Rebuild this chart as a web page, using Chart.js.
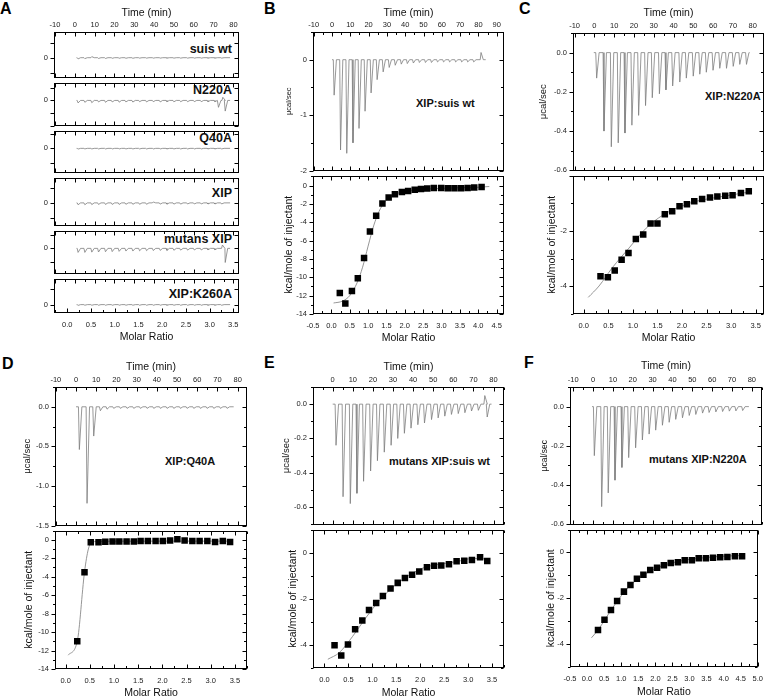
<!DOCTYPE html>
<html>
<head>
<meta charset="utf-8">
<script src="https://cdn.jsdelivr.net/npm/chart.js"></script>
<style>
  html, body { margin: 0; padding: 0; background: #fff; overflow: hidden; }
  #fig { position: relative; width: 769px; height: 698px; font-family: "Liberation Sans", Arial, sans-serif; }
  #fig canvas { position: absolute; }
  .lbl { position: absolute; font-weight: bold; font-size: 11px; line-height: 11px; color: #111; white-space: nowrap; }
  .lbl.a { font-size: 12.5px; line-height: 12.5px; text-align: right; }
  .pl { position: absolute; font-weight: bold; font-size: 16px; line-height: 16px; color: #000; }
</style>
</head>
<body>
<div id="fig">
  <div class="pl" style="left:0px;top:1px">A</div>
  <div class="pl" style="left:264px;top:1px">B</div>
  <div class="pl" style="left:519px;top:1px">C</div>
  <div class="pl" style="left:2px;top:356px">D</div>
  <div class="pl" style="left:264px;top:355px">E</div>
  <div class="pl" style="left:524px;top:355px">F</div>

  <div class="lbl a" style="right:537px;top:43px">suis wt</div>
  <div class="lbl a" style="right:537px;top:84px">N220A</div>
  <div class="lbl a" style="right:537px;top:132px">Q40A</div>
  <div class="lbl a" style="right:537px;top:187px">XIP</div>
  <div class="lbl a" style="right:537px;top:233px">mutans XIP</div>
  <div class="lbl a" style="right:537px;top:288px">XIP:K260A</div>

  <div class="lbl" style="left:416px;top:98px">XIP:suis wt</div>
  <div class="lbl" style="left:705px;top:91px">XIP:N220A</div>
  <div class="lbl" style="left:165px;top:456px">XIP:Q40A</div>
  <div class="lbl" style="left:389px;top:456px">mutans XIP:suis wt</div>
  <div class="lbl" style="left:649px;top:454px">mutans XIP:N220A</div>
</div>
<script>
/* ── data: A, control titrations (raw heat only) ── */
const aInj = [1.2, 4.6, 8.1, 11.5, 15.0, 18.4, 21.9, 25.3, 28.8, 32.2, 35.7, 39.1, 42.6, 46.0, 49.5, 52.9, 56.4, 59.8, 63.3, 66.7, 70.2, 73.6];
const aSuisPeaks = [-0.08, -0.06, 0.07, -0.05, -0.05, -0.04, -0.04, -0.04, -0.04, -0.03, -0.03, -0.03, -0.03, -0.03, -0.03, -0.03, -0.03, -0.03, -0.03, -0.03, -0.03, -0.03];
const aN220AInj = [1.2, 4.6, 8.1, 11.5, 15.0, 18.4, 21.9, 25.3, 28.8, 32.2, 35.7, 39.1, 42.6, 46.0, 49.5, 52.9, 56.4, 59.8, 63.3, 66.7, 70.2, 72.0, 74.2, 75.4];
const aN220APeaks = [-0.2, -0.15, -0.18, -0.12, -0.15, -0.12, -0.14, -0.12, -0.13, -0.1, -0.12, -0.1, -0.12, -0.1, -0.11, -0.1, -0.1, -0.1, -0.1, -0.1, -0.1, -0.55, 0.25, -0.85];
const aQ40APeaks = [-0.05, -0.04, -0.04, -0.04, -0.04, -0.04, -0.04, -0.04, -0.04, -0.04, -0.04, -0.04, -0.04, -0.04, -0.04, -0.04, -0.04, -0.04, -0.04, -0.04, -0.04, -0.04];
const aXIPPeaks = [-0.12, -0.12, -0.11, -0.1, -0.1, -0.1, -0.1, -0.09, -0.09, -0.09, -0.09, 0.06, -0.08, -0.08, -0.08, -0.08, -0.07, -0.07, -0.07, -0.07, -0.07, -0.07];
const aMutInj = [1.2, 4.6, 8.1, 11.5, 15.0, 18.4, 21.9, 25.3, 28.8, 32.2, 35.7, 39.1, 42.6, 46.0, 49.5, 52.9, 56.4, 59.8, 63.3, 66.7, 70.2, 74.0, 75.4];
const aMutPeaks = [-0.3, -0.3, -0.28, -0.27, -0.25, -0.24, -0.22, -0.2, -0.2, -0.18, -0.17, -0.16, -0.15, -0.15, -0.14, -0.13, -0.13, -0.12, -0.12, -0.11, -0.11, 0.25, -1.05];
const aK260APeaks = [-0.05, -0.04, -0.04, -0.04, -0.04, -0.04, -0.04, -0.04, -0.04, -0.04, -0.04, -0.04, -0.04, -0.04, -0.04, -0.04, -0.04, -0.04, -0.04, -0.04, -0.04, -0.04];

/* ── B: XIP:suis wt ── */
const bInj = [0.7, 4.2, 7.6, 11.0, 14.3, 17.6, 20.9, 24.2, 27.5, 30.8, 34.1, 37.4, 40.7, 44.0, 47.3, 50.6, 53.9, 57.2, 60.5, 63.8, 67.1, 70.4, 73.7, 77.0, 81.0];
const bPeaks = [-0.64, -1.63, -1.69, -1.50, -1.24, -0.93, -0.60, -0.36, -0.22, -0.14, -0.10, -0.08, -0.07, -0.06, -0.05, -0.05, -0.05, -0.04, -0.04, -0.04, -0.04, -0.04, -0.04, -0.04, 0.13];
const bRatio = [0.23, 0.38, 0.56, 0.72, 0.89, 1.05, 1.22, 1.39, 1.56, 1.73, 1.92, 2.09, 2.27, 2.44, 2.61, 2.79, 2.99, 3.17, 3.35, 3.53, 3.71, 3.89, 4.09];
const bHeat = [-11.7, -12.85, -11.5, -10.1, -7.9, -5.0, -3.3, -1.95, -1.3, -0.95, -0.7, -0.6, -0.45, -0.38, -0.33, -0.26, -0.25, -0.28, -0.28, -0.28, -0.25, -0.22, -0.15];
const bFitX = [0.06, 0.3, 0.5, 0.7, 0.85, 1.0, 1.15, 1.3, 1.45, 1.6, 1.8, 2.0, 2.5, 3.0, 3.5, 4.0, 4.3];
const bFitY = [-12.8, -12.6, -12.0, -10.6, -8.9, -6.6, -4.4, -2.8, -1.8, -1.2, -0.85, -0.62, -0.4, -0.3, -0.24, -0.18, -0.1];

/* ── C: XIP:N220A ── */
const cInj = [0.7, 4.4, 8.1, 11.6, 15.0, 18.5, 21.9, 25.4, 28.8, 32.4, 35.7, 39.1, 42.7, 46.0, 49.5, 52.8, 56.1, 59.5, 62.9, 66.3, 69.7, 73.0, 76.4];
const cPeaks = [-0.13, -0.40, -0.48, -0.46, -0.41, -0.37, -0.32, -0.27, -0.23, -0.21, -0.19, -0.17, -0.15, -0.13, -0.12, -0.11, -0.10, -0.09, -0.08, -0.08, -0.07, -0.06, -0.06];
const cRatio = [0.34, 0.49, 0.63, 0.77, 0.91, 1.06, 1.21, 1.36, 1.50, 1.65, 1.80, 1.95, 2.10, 2.25, 2.41, 2.57, 2.72, 2.88, 3.03, 3.20, 3.36];
const cHeat = [-3.64, -3.67, -3.43, -3.04, -2.80, -2.29, -2.13, -1.73, -1.73, -1.40, -1.29, -1.11, -1.04, -0.93, -0.85, -0.79, -0.76, -0.73, -0.71, -0.63, -0.57];
const cFitX = [0.09, 0.31, 0.58, 0.92, 1.27, 1.61, 1.95, 2.29, 2.64, 2.98, 3.36];
const cFitY = [-4.40, -3.99, -3.33, -2.62, -1.90, -1.43, -1.13, -0.93, -0.81, -0.71, -0.60];

/* ── D: XIP:Q40A ── */
const dInj = [1.2, 5.0, 8.3, 11.6, 14.9, 18.2, 21.5, 24.8, 28.1, 31.4, 34.7, 38.0, 41.3, 44.6, 47.9, 51.2, 54.5, 57.8, 61.1, 64.4, 67.7, 71.0, 74.3];
const dPeaks = [-0.54, -1.22, -0.37, -0.05, -0.03, -0.02, -0.02, -0.02, -0.02, -0.02, -0.02, -0.02, -0.02, -0.02, -0.02, -0.02, -0.02, -0.02, -0.02, -0.02, -0.02, -0.02, -0.02];
const dRatio = [0.24, 0.39, 0.52, 0.68, 0.82, 0.97, 1.11, 1.26, 1.41, 1.55, 1.70, 1.86, 2.01, 2.16, 2.31, 2.46, 2.62, 2.77, 2.93, 3.09, 3.25, 3.40];
const dHeat = [-11.0, -3.52, -0.28, -0.28, -0.21, -0.18, -0.18, -0.18, -0.18, -0.14, -0.14, -0.14, -0.14, -0.07, 0.04, -0.07, -0.14, -0.14, -0.14, -0.25, -0.14, -0.25];
const dFitX = [0.05, 0.24, 0.39, 0.47, 0.53, 0.6, 1.0, 2.0, 3.0, 3.4];
const dFitY = [-12.5, -11.0, -3.5, -1.0, -0.35, -0.2, -0.16, -0.15, -0.15, -0.15];

/* ── E: mutans XIP:suis wt ── */
const eInj = [1.2, 4.7, 8.3, 11.6, 14.9, 18.4, 21.8, 25.2, 28.6, 31.9, 35.2, 38.5, 41.9, 45.2, 48.7, 52.0, 55.3, 58.6, 62.0, 65.3, 68.6, 72.0, 75.2, 76.4];
const ePeaks = [-0.24, -0.54, -0.58, -0.52, -0.45, -0.39, -0.33, -0.28, -0.24, -0.20, -0.17, -0.14, -0.12, -0.11, -0.09, -0.08, -0.07, -0.06, -0.055, -0.05, -0.04, -0.036, 0.05, -0.075];
const eRatio = [0.21, 0.35, 0.49, 0.64, 0.79, 0.93, 1.08, 1.22, 1.38, 1.53, 1.68, 1.83, 1.98, 2.14, 2.29, 2.44, 2.60, 2.76, 2.92, 3.08, 3.25, 3.40];
const eHeat = [-4.03, -4.48, -4.00, -3.34, -2.96, -2.50, -2.20, -1.89, -1.56, -1.32, -1.11, -0.97, -0.83, -0.64, -0.58, -0.57, -0.51, -0.38, -0.36, -0.33, -0.21, -0.37];
const eFitX = [0.07, 0.31, 0.59, 0.87, 1.15, 1.43, 1.70, 2.05, 2.40, 2.75, 3.10, 3.44];
const eFitY = [-4.64, -4.35, -3.64, -2.82, -2.08, -1.50, -1.08, -0.68, -0.51, -0.40, -0.26, -0.28];

/* ── F: mutans XIP:N220A ── */
const fInj = [0.2, 3.9, 7.2, 10.6, 14.1, 17.5, 21.0, 24.4, 27.8, 31.1, 34.5, 37.9, 41.2, 44.6, 48.0, 51.3, 54.7, 58.0, 61.4, 64.8, 68.2, 71.5, 74.9];
const fPeaks = [-0.25, -0.51, -0.44, -0.375, -0.31, -0.26, -0.21, -0.17, -0.14, -0.12, -0.095, -0.08, -0.065, -0.057, -0.045, -0.04, -0.033, -0.03, -0.027, -0.025, -0.023, -0.022, -0.02];
const fRatio = [0.32, 0.51, 0.70, 0.88, 1.08, 1.27, 1.46, 1.65, 1.85, 2.05, 2.25, 2.45, 2.66, 2.86, 3.07, 3.27, 3.48, 3.69, 3.90, 4.11, 4.33, 4.54];
const fHeat = [-3.40, -2.95, -2.52, -2.13, -1.72, -1.43, -1.16, -0.98, -0.77, -0.68, -0.57, -0.47, -0.43, -0.35, -0.35, -0.26, -0.26, -0.24, -0.21, -0.20, -0.17, -0.17];
const fFitX = [0.13, 0.32, 0.73, 1.11, 1.49, 1.87, 2.35, 2.83, 3.40, 3.97, 4.59];
const fFitY = [-3.74, -3.40, -2.47, -1.70, -1.16, -0.81, -0.52, -0.35, -0.24, -0.17, -0.14];

/* ────────────────────────────────────────────
   HELPERS
──────────────────────────────────────────── */
const FONT = '"Liberation Sans", Arial, sans-serif';
const fig = document.getElementById('fig');
Chart.defaults.font.family = FONT;

// baseline with a sharp dip (or bump) at each injection
function trace(t0, t1, times, peaks) {
  const pts = [{x: t0, y: 0}];
  times.forEach((t, i) => {
    pts.push({x: t, y: 0}, {x: t + 0.45, y: peaks[i]}, {x: t + 1.7, y: 0});
  });
  pts.push({x: t1, y: 0});
  return pts;
}
const pairs = (xs, ys) => xs.map((x, i) => ({x, y: ys[i]}));

const rawSet = pts => ({data: pts, xAxisID: 't', showLine: true, borderColor: '#7d7d7d', borderWidth: 0.8, pointRadius: 0, tension: 0});
const ptSet = pts => ({data: pts, xAxisID: 'm', pointStyle: 'rect', pointRadius: 4.6, backgroundColor: '#000', borderWidth: 0});
const fitSet = pts => ({data: pts, xAxisID: 'm', showLine: true, borderColor: '#8a8a8a', borderWidth: 0.9, pointRadius: 0, cubicInterpolationMode: 'monotone'});

// box outline + tick marks on all four sides
const frame = {
  id: 'frame',
  afterDatasetsDraw(chart, args, opts) {
    const {ctx, chartArea: a} = chart;
    const L = Math.round(a.left) + 0.5, R = Math.round(a.right) - 0.5;
    const T = Math.round(a.top) + 0.5, B = Math.round(a.bottom) - 0.5;
    ctx.save();
    ctx.strokeStyle = '#000';
    ctx.lineWidth = 1;
    ctx.strokeRect(L, T, R - L, B - T);
    ctx.beginPath();
    (opts.marks || []).forEach(m => {
      const s = chart.scales[m.id];
      for (let k = Math.ceil(s.min / m.step - 1e-6); k * m.step <= s.max + 1e-9; k++) {
        const v = k * m.step;
        const major = Math.abs(v / m.major - Math.round(v / m.major)) < 1e-6;
        const len = major ? 4 : 2.5;
        const p = Math.round(s.getPixelForValue(v)) + 0.5;
        if (s.isHorizontal()) {
          if (m.sides !== 'bottom') { ctx.moveTo(p, T); ctx.lineTo(p, T + len); }
          if (m.sides !== 'top') { ctx.moveTo(p, B); ctx.lineTo(p, B - len); }
        } else {
          ctx.moveTo(L - len, p); ctx.lineTo(L, p);
          ctx.moveTo(R, p); ctx.lineTo(R - len, p);
        }
      }
    });
    ctx.stroke();
    ctx.restore();
  }
};

function axis(o) {
  return {
    type: 'linear', position: o.pos, min: o.min, max: o.max, display: o.show !== false,
    grid: {display: false, drawTicks: false}, border: {display: false},
    ticks: {
      stepSize: o.step, includeBounds: false, autoSkip: false, maxRotation: 0, minRotation: 0,
      padding: o.pad, color: '#222', font: {family: FONT, size: 7.5},
      callback: o.fmt || (v => v.toFixed(o.dec))
    },
    title: o.title
      ? {display: true, text: o.title, color: '#111', padding: 0, font: {family: FONT, size: o.titleSize || 10.5}}
      : {display: false},
    afterFit: s => { if (s.isHorizontal()) s.height = o.size; else s.width = o.size; }
  };
}

// one sub-plot: box = [left, top, right, bottom] in page pixels
function mk(o) {
  const [l, t, r, b] = o.box;
  const PAD = 8;
  const lw = o.yt ? Math.round(l - (o.yt[0] - o.yt[2] * 0.6)) : 30;
  const th = o.tt ? Math.round(t - (o.tt - 6.3)) : 0;
  const bh = o.mt ? Math.round(o.mt + 6.3 - b) : 0;
  const topM = th || PAD, botM = bh || PAD;

  const cv = document.createElement('canvas');
  const w = (r - l) + lw + PAD, h = (b - t) + topM + botM;
  cv.width = w; cv.height = h;
  cv.style.width = w + 'px'; cv.style.height = h + 'px';
  cv.style.left = (l - lw) + 'px'; cv.style.top = (t - topM) + 'px';
  fig.appendChild(cv);

  const scales = {}, marks = [];
  if (o.t) {
    scales.t = axis({pos: 'top', min: o.t[0], max: o.t[1], step: 10, dec: 0, size: th, pad: 3, show: !!o.tt, title: o.tt ? 'Time (min)' : ''});
    marks.push({id: 't', step: 5, major: 10, sides: o.m ? 'top' : 'both'});
  }
  if (o.m) {
    scales.m = axis({pos: 'bottom', min: o.m[0], max: o.m[1], step: 0.5, dec: 1, size: bh, pad: 7, show: !!o.mt, title: o.mt ? 'Molar Ratio' : ''});
    marks.push({id: 'm', step: 0.25, major: 0.5, sides: o.t ? 'bottom' : 'both'});
  }
  scales.y = axis({pos: 'left', min: o.y[0], max: o.y[1], step: o.y[2], dec: o.y[4], size: lw, pad: 6,
    fmt: o.yfmt, title: o.yt ? o.yt[1] : '', titleSize: o.yt ? o.yt[2] : 10.5});
  marks.push({id: 'y', step: o.y[3], major: o.y[2]});

  new Chart(cv, {
    type: 'scatter',
    data: {datasets: o.sets},
    options: {
      responsive: false, animation: false, devicePixelRatio: 1,
      layout: {padding: {left: 0, right: PAD, top: th ? 0 : PAD, bottom: bh ? 0 : PAD}},
      plugins: {legend: {display: false}, tooltip: {enabled: false}, frame: {marks}},
      scales
    },
    plugins: [frame]
  });
}

/* ────────────────────────────────────────────
   PANEL A
──────────────────────────────────────────── */
const aT = [-10.5, 82.8], aM = [-0.28, 3.62];
const zeroOnly = v => (v === 0 ? '0' : '');
const aRows = [
  {box: [54, 32, 239, 80], y: [-1.31, 1.7], times: aInj, peaks: aSuisPeaks},
  {box: [54, 80, 239, 128], y: [-2.0, 1.43], times: aN220AInj, peaks: aN220APeaks},
  {box: [54, 128, 239, 175], y: [-1.69, 1.25], times: aInj, peaks: aQ40APeaks},
  {box: [54, 175, 239, 228], y: [-1.47, 1.65], times: aInj, peaks: aXIPPeaks},
  {box: [54, 228, 239, 276], y: [-1.87, 1.33], times: aMutInj, peaks: aMutPeaks},
  {box: [54, 276, 239, 313], y: [-0.53, 1.65], times: aInj, peaks: aK260APeaks}
];
aRows.forEach((row, i) => {
  mk({
    box: row.box, t: aT, tt: i === 0 ? 13 : null,
    m: i === 5 ? aM : null, mt: i === 5 ? 337 : null,
    y: [row.y[0], row.y[1], 1, 1, 0], yfmt: zeroOnly,
    sets: [rawSet(trace(0.9, 78.3, row.times, row.peaks))]
  });
});

/* ────────────────────────────────────────────
   PANELS B–F (raw heat on top, isotherm below)
──────────────────────────────────────────── */
// B
mk({box: [313, 32, 504, 173], t: [-10.4, 94], tt: 13, yt: [289, 'μcal/sec', 7.5],
  y: [-2, 0.5, 1, 0.5, 0], sets: [rawSet(trace(0, 84, bInj, bPeaks))]});
mk({box: [313, 173, 504, 314], m: [-0.5, 4.7], mt: 338, yt: [289, 'kcal/mole of injectant', 10.5],
  y: [-14, 1.1, 2, 1, 0], sets: [ptSet(pairs(bRatio, bHeat)), fitSet(pairs(bFitX, bFitY))]});

// C
mk({box: [573, 33, 764, 173], t: [-10.8, 85.7], tt: 13, yt: [544, 'μcal/sec', 9.5],
  y: [-0.601, 0.1, 0.2, 0.1, 1], sets: [rawSet(trace(-0.3, 78.4, cInj, cPeaks))]});
mk({box: [573, 173, 764, 314], m: [-0.22, 3.67], mt: 338, yt: [552, 'kcal/mole of injectant', 10.5],
  y: [-5, 0, 2, 1, 0], yfmt: v => (v === 0 ? '' : String(v)),
  sets: [ptSet(pairs(cRatio, cHeat)), fitSet(pairs(cFitX, cFitY))]});

// D
mk({box: [55, 387, 247, 528], t: [-10.4, 84.6], tt: 367, yt: [28, 'μcal/sec', 9.5],
  y: [-1.5, 0.25, 0.5, 0.25, 1], sets: [rawSet(trace(0, 78, dInj, dPeaks))]});
mk({box: [55, 528, 247, 669], m: [-0.22, 3.75], mt: 693, yt: [29, 'kcal/mole of injectant', 10.5],
  y: [-14, 1, 2, 1, 0], sets: [ptSet(pairs(dRatio, dHeat)), fitSet(pairs(dFitX, dFitY))]});

// E
mk({box: [313, 387, 504, 527], t: [-9.8, 85.2], tt: 367, yt: [287, 'μcal/sec', 9.5],
  y: [-0.702, 0.1, 0.2, 0.1, 1], sets: [rawSet(trace(0, 79, eInj, ePeaks))]});
mk({box: [313, 527, 504, 668], m: [-0.24, 3.75], mt: 693, yt: [293, 'kcal/mole of injectant', 10.5],
  y: [-5.02, 1, 2, 1, 0], sets: [ptSet(pairs(eRatio, eHeat)), fitSet(pairs(eFitX, eFitY))]});

// F
mk({box: [570, 387, 762, 527], t: [-11.6, 85.1], tt: 366, yt: [545, 'μcal/sec', 8.5],
  y: [-0.601, 0.1, 0.2, 0.1, 1], sets: [rawSet(trace(-0.5, 78.5, fInj, fPeaks))]});
mk({box: [570, 527, 762, 667], m: [-0.5, 5.0], mt: 692, yt: [551, 'kcal/mole of injectant', 10.5],
  y: [-5.02, 1, 2, 1, 0], sets: [ptSet(pairs(fRatio, fHeat)), fitSet(pairs(fFitX, fFitY))]});
</script>
</body>
</html>
